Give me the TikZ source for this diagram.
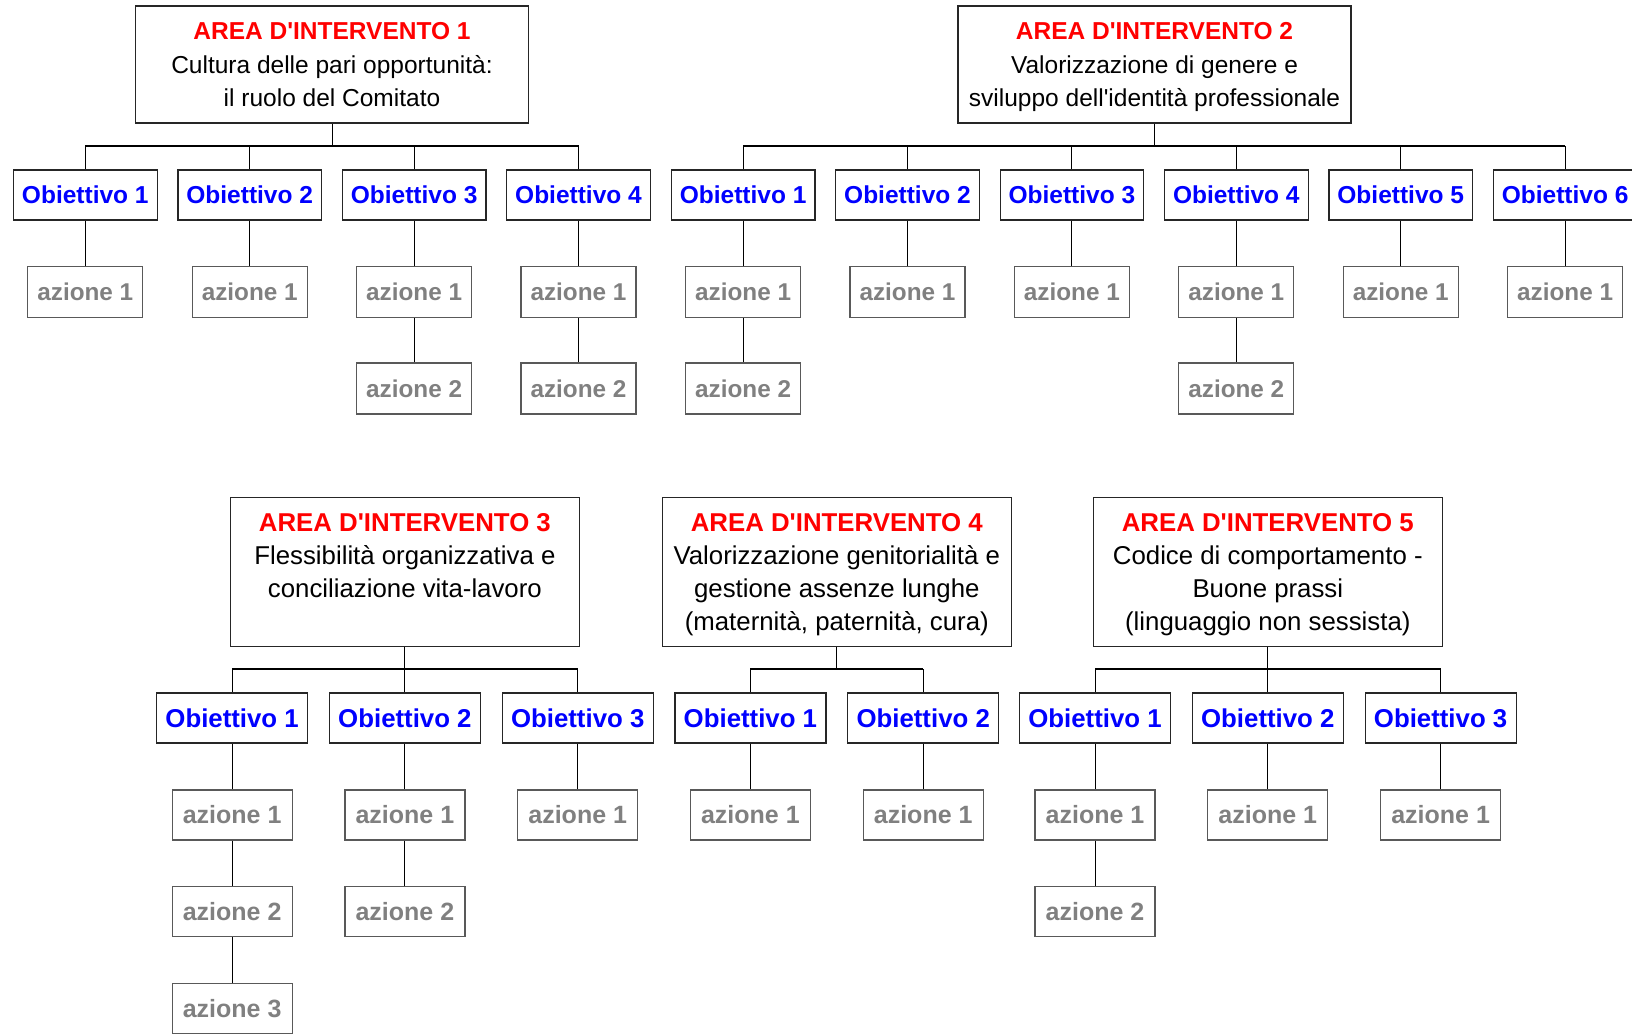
\documentclass[tikz,border=0pt]{standalone}
\usepackage{fontspec}
\setmainfont{Liberation Sans}[Ligatures=TeXOff]
\definecolor{papRed}{HTML}{FF0000}
\definecolor{papBlue}{HTML}{0000FF}
\definecolor{papGray}{HTML}{808080}
\definecolor{papLine}{HTML}{595959}
\definecolor{papDark}{HTML}{262626}
\tikzset{
  pap box/.style={draw, rectangle, inner sep=0pt, line width=0.6pt, align=center},
  pap area/.style={pap box, draw=papDark, text=black, text depth=0pt, font=\fontsize{12.25}{16.65}\selectfont, minimum width=196.5pt, minimum height=58.5pt},
  pap area low/.style={pap area, font=\fontsize{12.9}{16.5}\selectfont, minimum width=174.5pt, minimum height=74.5pt},
  pap goal/.style={pap box, draw=papDark, text=papBlue, font=\fontsize{12.25}{15}\selectfont\bfseries, minimum width=71.8pt, minimum height=25pt},
  pap goal low/.style={pap goal, font=\fontsize{12.9}{15}\selectfont\bfseries, minimum width=75.5pt},
  pap action/.style={pap box, draw=papLine, text=papGray, font=\fontsize{12.15}{15}\selectfont\bfseries, minimum width=57.5pt, minimum height=25.5pt},
  pap action low/.style={pap action, font=\fontsize{12.5}{15}\selectfont\bfseries, minimum width=60pt, minimum height=25pt},
  pap link/.style={draw=black, line width=0.5pt},
  pap bus/.style={draw=black, line width=1pt},
}

\begin{document}
\begin{tikzpicture}[x=0.5pt,y=-0.5pt]
  \useasboundingbox (0,0) rectangle (1632,1033);
  \clip (0,0) rectangle (1632,1033);

  % upper row
  \node[pap area] (a1) at (332,64.5) {{\color{papRed}\bfseries AREA D'INTERVENTO 1}\\Cultura delle pari opportunità:\\il ruolo del Comitato};
  \node[pap area] (a2) at (1154.5,64.5) {{\color{papRed}\bfseries AREA D'INTERVENTO 2}\\Valorizzazione di genere e\\sviluppo dell'identità professionale};
  \coordinate (b1) at (332,146);
  \coordinate (b2) at (1154.5,146);

  \foreach \i in {1,...,4} {
    \node[pap goal] (a1o\i) at ({85.3+164.4*(\i-1)},195) {Obiettivo \i};
    \node[pap action] (a1o\i-1) at (a1o\i |- 0,292) {azione 1};
    \draw[pap link] (a1o\i |- b1) -- (a1o\i);
    \draw[pap link] (a1o\i) -- (a1o\i-1);
  }
  \foreach \i in {1,...,6} {
    \node[pap goal] (a2o\i) at ({743.1+164.4*(\i-1)},195) {Obiettivo \i};
    \node[pap action] (a2o\i-1) at (a2o\i |- 0,292) {azione 1};
    \draw[pap link] (a2o\i |- b2) -- (a2o\i);
    \draw[pap link] (a2o\i) -- (a2o\i-1);
  }
  \foreach \g in {a1o3,a1o4,a2o1,a2o4} {
    \node[pap action] (\g-2) at (\g |- 0,388.5) {azione 2};
    \draw[pap link] (\g-1) -- (\g-2);
  }
  \draw[pap link] (a1) -- (b1);
  \draw[pap link] (a2) -- (b2);
  \draw[pap bus] (a1o1 |- b1) -- (a1o4 |- b1);
  \draw[pap bus] (a2o1 |- b2) -- (a2o6 |- b2);

  % lower row
  \node[pap area low] (a3) at (404.9,572) {{\color{papRed}\bfseries AREA D'INTERVENTO 3}\\Flessibilità organizzativa e\\conciliazione vita-lavoro\\\mbox{}};
  \node[pap area low] (a4) at (836.8,572) {{\color{papRed}\bfseries AREA D'INTERVENTO 4}\\Valorizzazione genitorialità e\\gestione assenze lunghe\\(maternità, paternità, cura)};
  \node[pap area low] (a5) at (1267.8,572) {{\color{papRed}\bfseries AREA D'INTERVENTO 5}\\Codice di comportamento -\\Buone prassi\\(linguaggio non sessista)};
  \coordinate (b3) at (404.9,669);
  \coordinate (b4) at (836.8,669);
  \coordinate (b5) at (1267.8,669);

  \foreach \a/\x/\n in {3/232.1/3,4/750.4/2,5/1095/3} {
    \foreach \i in {1,...,\n} {
      \node[pap goal low] (a\a o\i) at ({\x+172.8*(\i-1)},718) {Obiettivo \i};
      \node[pap action low] (a\a o\i-1) at (a\a o\i |- 0,815) {azione 1};
      \draw[pap link] (a\a o\i |- b\a) -- (a\a o\i);
      \draw[pap link] (a\a o\i) -- (a\a o\i-1);
    }
    \draw[pap link] (a\a) -- (b\a);
    \draw[pap bus] (a\a o1 |- b\a) -- (a\a o\n |- b\a);
  }
  \foreach \g in {a3o1,a3o2,a5o1} {
    \node[pap action low] (\g-2) at (\g |- 0,911.8) {azione 2};
    \draw[pap link] (\g-1) -- (\g-2);
  }
  \node[pap action low] (a3o1-3) at (a3o1 |- 0,1008.6) {azione 3};
  \draw[pap link] (a3o1-2) -- (a3o1-3);
\end{tikzpicture}
\end{document}
